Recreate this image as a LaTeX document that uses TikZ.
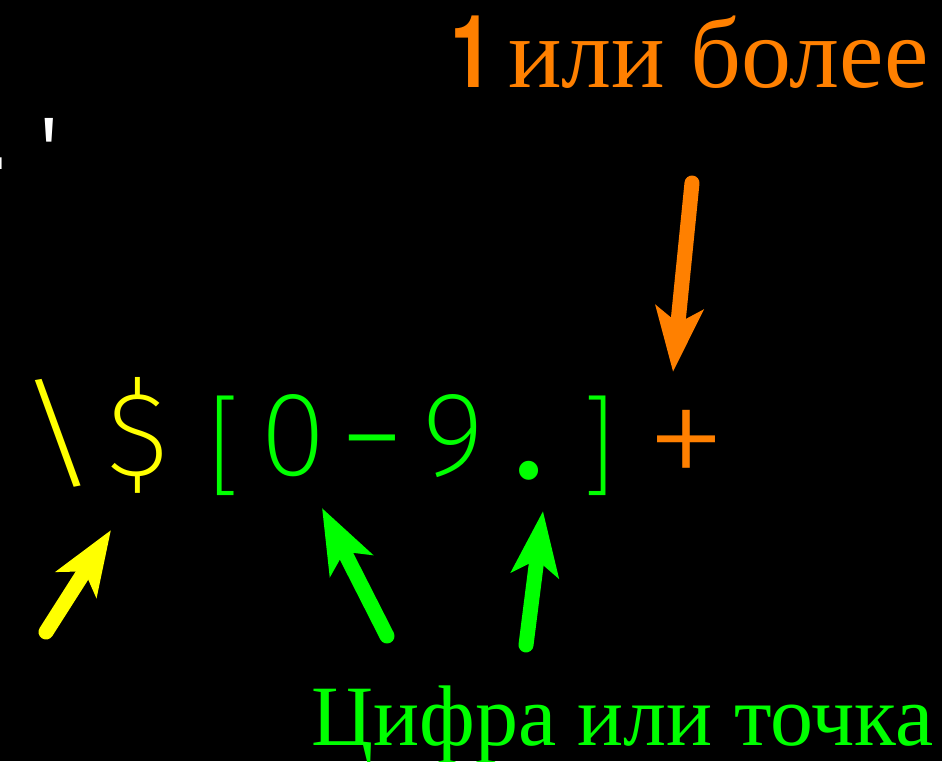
\documentclass[tikz,border=0pt]{standalone}
\usepackage{fontspec}
\setmainfont{Liberation Serif}
\setmonofont{Liberation Mono}
\newfontfamily\herosf{TeX Gyre Heros}
\newfontfamily\thinf{Fira Sans ExtraLight}
\newfontfamily\firalight{Fira Sans Light}
\newfontfamily\firabold{Fira Sans Bold}
\usetikzlibrary{arrows.meta}
\definecolor{cOrange}{HTML}{FF8000}
\definecolor{cYellow}{HTML}{FFFF00}
\definecolor{cGreen}{HTML}{00FF00}
\tikzset{
  mono/.style={font=\thinf\fontsize{120}{120}\selectfont, inner sep=0pt, anchor=base},
  bigarrow/.style={line width=15pt, line cap=round, -{Stealth[length=64pt,width=47pt,inset=15pt]}},
}
\begin{document}
\begin{tikzpicture}[x=1pt,y=1pt]
\fill[black] (0,0) rectangle (942,761);
\useasboundingbox (0,0) rectangle (942,761);
\begin{scope}
\clip (0,0) rectangle (942,761);
% partial white text at top left
\node[inner sep=0pt, anchor=base, text=white, font=\ttfamily\fontsize{80}{80}\selectfont] (dot) at (-2,591) {.};
\node[inner sep=0pt, anchor=base, text=white, font=\ttfamily\fontsize{76}{76}\selectfont] (apos) at (49,587) {\char"27};
\end{scope}
% top label
\node[inner sep=0pt, anchor=base west, text=cOrange, font=\herosf\bfseries\fontsize{101}{101}\selectfont] (one) at (450,673) {\scalebox{0.75}[1]{1}};
\node[inner sep=0pt, anchor=base west, text=cOrange, font=\fontsize{100}{100}\selectfont] (more) at (508,673) {или более};
% regex characters
\node[mono, text=cYellow] (c1) at (57.7,285) {\scalebox{1.4}[1]{\char"5C}};
\node[mono, text=cYellow] (c2) at (137.5,285) {\$};
\node[mono, text=cGreen, font=\thinf\fontsize{109}{109}\selectfont] (c3) at (225,277) {[};
\node[mono, text=cGreen] (c4) at (293.5,285) {0};
\node[mono, text=cGreen, font=\firalight\fontsize{120}{120}\selectfont] (c5) at (372.1,285) {\scalebox{1.45}[1]{-}};
\node[mono, text=cGreen] (c6) at (453,285) {9};
\node[mono, text=cGreen, font=\firabold\fontsize{105}{105}\selectfont] (c7) at (529,282) {.};
\node[mono, text=cGreen, font=\thinf\fontsize{109}{109}\selectfont] (c8) at (599,277) {]};
\node[mono, text=cOrange, font=\thinf\fontsize{167}{167}\selectfont] (c9) at (686,266) {+};
% bottom label
\node[inner sep=0pt, anchor=base west, text=cGreen, font=\fontsize{86}{86}\selectfont] (digit) at (311,16) {Цифра или точка};
% arrow end points
\coordinate (oT) at (692,578);
\coordinate (oH) at (673,389);
\coordinate (yT) at (46,129);
\coordinate (yH) at (111,231);
\coordinate (g1T) at (387,125);
\coordinate (g1H) at (322,253);
\coordinate (g2T) at (526,116);
\coordinate (g2H) at (543,250);
\draw[bigarrow, cOrange] (oT) -- (oH);
\draw[bigarrow, cYellow] (yT) -- (yH);
\draw[bigarrow, cGreen] (g1T) -- (g1H);
\draw[bigarrow, cGreen] (g2T) -- (g2H);
\end{tikzpicture}
\end{document}
